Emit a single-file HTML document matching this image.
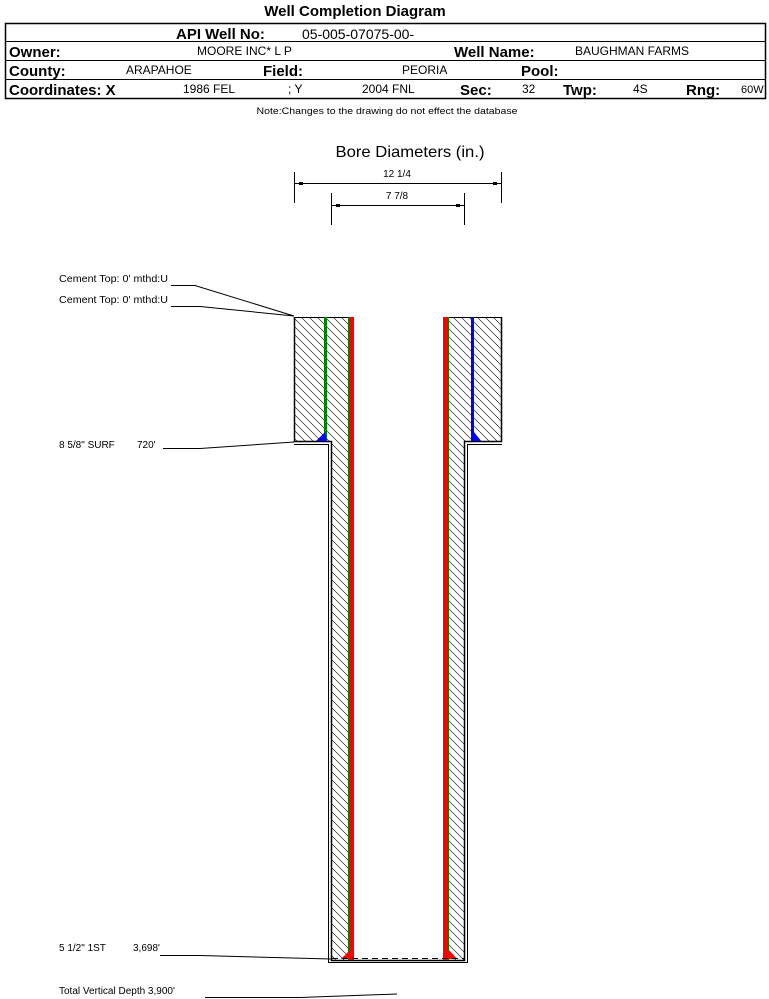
<!DOCTYPE html>
<html><head><meta charset="utf-8"><style>
html,body{margin:0;padding:0;background:#fff;}
svg{display:block;font-family:"Liberation Sans",sans-serif;}
</style></head><body>
<svg width="769" height="999" viewBox="0 0 769 999" xmlns="http://www.w3.org/2000/svg">
<defs>
<pattern id="h" patternUnits="userSpaceOnUse" width="8" height="8">
<path d="M-2,-2 L10,10 M-2,6 L2,10 M6,-2 L10,2" stroke="#000" stroke-width="0.6"/>
</pattern>
</defs>
<text x="355" y="16" font-size="15" font-weight="bold" text-anchor="middle">Well Completion Diagram</text>
<rect x="5.5" y="23.5" width="760" height="75" fill="none" stroke="#000" stroke-width="1.5"/>
<line x1="5" y1="41.5" x2="766" y2="41.5" stroke="#000"/>
<line x1="5" y1="60.5" x2="766" y2="60.5" stroke="#000"/>
<line x1="5" y1="79.5" x2="766" y2="79.5" stroke="#000"/>
<text x="176" y="39" font-size="15" font-weight="bold">API Well No:</text>
<text x="302" y="39" font-size="14">05-005-07075-00-</text>
<text x="9" y="57" font-size="15" font-weight="bold">Owner:</text>
<text x="197" y="55" font-size="12">MOORE INC* L P</text>
<text x="454" y="57" font-size="15" font-weight="bold">Well Name:</text>
<text x="575" y="55" font-size="12">BAUGHMAN FARMS</text>
<text x="9" y="76" font-size="15" font-weight="bold">County:</text>
<text x="126" y="74" font-size="12">ARAPAHOE</text>
<text x="263" y="76" font-size="15" font-weight="bold">Field:</text>
<text x="402" y="74" font-size="12">PEORIA</text>
<text x="521" y="76" font-size="15" font-weight="bold">Pool:</text>
<text x="9" y="95" font-size="15" font-weight="bold">Coordinates: X</text>
<text x="183" y="93" font-size="12">1986 FEL</text>
<text x="288" y="93" font-size="12">; Y</text>
<text x="362" y="93" font-size="12">2004 FNL</text>
<text x="460" y="95" font-size="15" font-weight="bold">Sec:</text>
<text x="522" y="93" font-size="12">32</text>
<text x="563" y="95" font-size="15" font-weight="bold">Twp:</text>
<text x="633" y="93" font-size="12">4S</text>
<text x="686" y="95" font-size="15" font-weight="bold">Rng:</text>
<text x="741" y="93" font-size="11">60W</text>
<text x="387" y="114" font-size="9" text-anchor="middle" textLength="261" lengthAdjust="spacingAndGlyphs">Note:Changes to the drawing do not effect the database</text>

<text x="410" y="157" font-size="16" text-anchor="middle" textLength="149" lengthAdjust="spacingAndGlyphs">Bore Diameters (in.)</text>
<g stroke="#000" stroke-width="1">
<line x1="294.5" y1="172" x2="294.5" y2="203"/><line x1="501.5" y1="172" x2="501.5" y2="203"/>
<line x1="295" y1="183.5" x2="501" y2="183.5"/>
<line x1="331.5" y1="193" x2="331.5" y2="225"/><line x1="464.5" y1="193" x2="464.5" y2="225"/>
<line x1="332" y1="205.5" x2="464" y2="205.5"/>
</g>
<g fill="#000"><rect x="299" y="182" width="4" height="3"/><rect x="493" y="182" width="4" height="3"/><rect x="336" y="204" width="4" height="3"/><rect x="456" y="204" width="4" height="3"/></g>
<text x="397" y="177" font-size="10" text-anchor="middle">12 1/4</text>
<text x="397" y="199" font-size="10" text-anchor="middle">7 7/8</text>

<rect x="294" y="317" width="56" height="124" fill="url(#h)"/>
<rect x="445" y="317" width="57" height="124" fill="url(#h)"/>
<rect x="331" y="441" width="19" height="519" fill="url(#h)"/>
<rect x="445" y="441" width="20" height="519" fill="url(#h)"/>
<g stroke="#000" fill="none">
<path d="M294.5,317 V441.5 H331.5 V960.5 H464.5 V441.5 H501.5 V317" stroke-width="1.5"/>
<path d="M294,317.5 H350 M445,317.5 H502"/>
<path d="M294,444.5 H328.5 V962.5 H467.5 V444.5 H502"/>
</g>
<g shape-rendering="crispEdges">
<rect x="324" y="317" width="3" height="124" fill="#008000"/>
<rect x="471" y="317" width="3" height="124" fill="#0000ff"/>
<rect x="348" y="317" width="6" height="643" fill="#008000"/>
<rect x="349" y="317" width="4" height="643" fill="#ff0000"/>
<rect x="443" y="317" width="6" height="643" fill="#008000"/>
<rect x="444" y="317" width="4" height="643" fill="#ff0000"/>
</g>
<path d="M316,441 L325,432 L327,441 Z" fill="#0000ff"/>
<path d="M472,441 L474,432 L481,441 Z" fill="#0000ff"/>
<path d="M341,959 L350,950 L353,959 Z" fill="#ff0000"/>
<path d="M446,959 L449,950 L457,959 Z" fill="#ff0000"/>
<line x1="332" y1="958.5" x2="464" y2="958.5" stroke="#000" stroke-dasharray="6,4"/>

<g font-size="10">
<text x="59" y="282" textLength="109" lengthAdjust="spacingAndGlyphs">Cement Top: 0' mthd:U</text>
<text x="59" y="303" textLength="109" lengthAdjust="spacingAndGlyphs">Cement Top: 0' mthd:U</text>
<text x="59" y="448">8 5/8" SURF</text>
<text x="137" y="448">720'</text>
<text x="59" y="951">5 1/2" 1ST</text>
<text x="133" y="951">3,698'</text>
<text x="59" y="994">Total Vertical Depth 3,900'</text>
</g>
<g stroke="#000" fill="none">
<polyline points="171,285.5 195,285.5 294,316"/>
<polyline points="171,306.5 200,306.5 294,316"/>
<polyline points="163,448.5 200,448.5 294,442"/>
<polyline points="160,955.5 200,955.5 331,959"/>
<polyline points="205,997.5 300,997.5 397,994"/>
</g>
</svg>
</body></html>
